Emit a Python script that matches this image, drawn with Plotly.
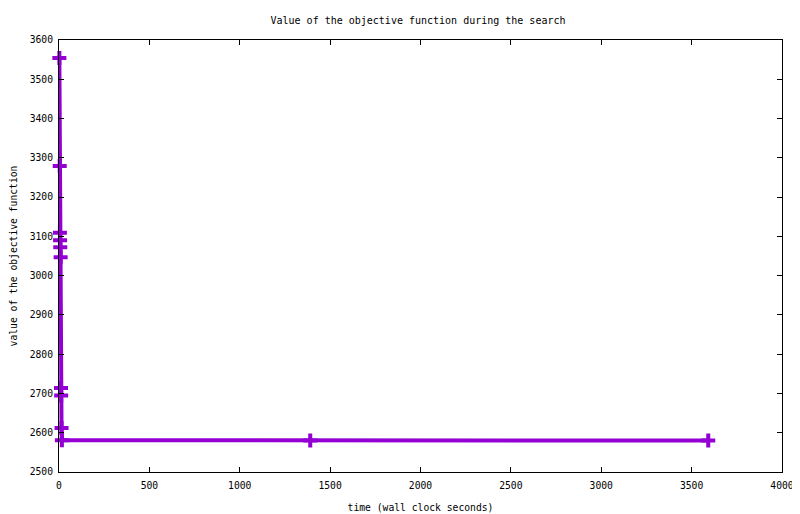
import plotly.graph_objects as go

# search trace: wall clock seconds vs objective value
times = [2, 4, 5, 6, 7, 9, 11, 12, 14, 16, 1390, 3592]
values = [3554, 3279, 3109, 3090, 3072, 3047, 2714, 2695, 2612, 2581, 2580, 2580]

x_ticks = list(range(0, 4001, 500))
y_ticks = list(range(2500, 3601, 100))

PURPLE = "#9400d3"
FONT = dict(family="DejaVu Sans Mono, Liberation Mono, monospace", size=9.7, color="black")

# the page body adds an 8px offset, so the figure is drawn 8px smaller
W, H = 792, 506

fig = go.Figure()
fig.add_trace(
    go.Scatter(
        x=times,
        y=values,
        mode="lines+markers",
        line=dict(color=PURPLE, width=4),
        marker=dict(symbol="cross-thin", size=10, line=dict(color=PURPLE, width=4)),
        showlegend=False,
        cliponaxis=False,
    )
)

axis_common = dict(
    showgrid=False,
    zeroline=False,
    showline=True,
    linecolor="black",
    linewidth=1,
    mirror="ticks",
    ticks="inside",
    ticklen=5,
    tickcolor="black",
    tickfont=FONT,
    automargin=False,
)

fig.update_layout(
    width=W,
    height=H,
    plot_bgcolor="white",
    paper_bgcolor="white",
    margin=dict(l=51, r=18, t=32, b=42),
    font=FONT,
    title=dict(
        text="Value of the objective function during the search",
        x=(418 - 8) / W,
        xanchor="center",
        y=1 - (20 - 8) / H,
        yanchor="middle",
        font=dict(FONT, size=10),
    ),
    xaxis=dict(
        range=[0, 4000],
        tickvals=x_ticks,
        ticklabelstandoff=4,
        title=dict(text="time (wall clock seconds)", font=FONT, standoff=14),
        **axis_common,
    ),
    yaxis=dict(
        range=[2500, 3600],
        tickvals=y_ticks,
        ticklabelstandoff=3,
        title=dict(text="value of the objective function", font=FONT, standoff=17),
        **axis_common,
    ),
)

fig.write_html("out.html")
